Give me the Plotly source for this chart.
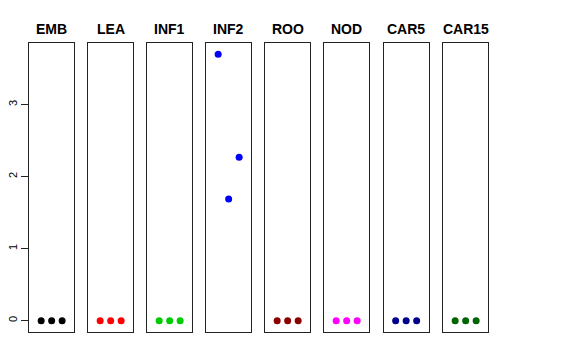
import plotly.graph_objects as go

tissues = ["EMB", "LEA", "INF1", "INF2", "ROO", "NOD", "CAR5", "CAR15"]
colors = ["#000000", "#FF0000", "#00CD00", "#0000FF", "#8B0000", "#FF00FF", "#00008B", "#006400"]
replicate = [1, 2, 3]
values = {
    "EMB": [0, 0, 0],
    "LEA": [0, 0, 0],
    "INF1": [0, 0, 0],
    "INF2": [3.70, 1.69, 2.27],
    "ROO": [0, 0, 0],
    "NOD": [0, 0, 0],
    "CAR5": [0, 0, 0],
    "CAR15": [0, 0, 0],
}
y_ticks = [0, 1, 2, 3]

# page body has an 8px default margin; lay out in page pixels minus that offset
OFF = 8
W, H = 576 - OFF, 360 - OFF
panel_left = [29, 88, 147, 206, 265, 324, 383.5, 443]
panel_w = 45.3
top_px, bot_px = 42.7, 331.7

fig = go.Figure()
layout = dict(
    width=W, height=H, margin=dict(l=0, r=0, t=0, b=0, autoexpand=False),
    paper_bgcolor="white", plot_bgcolor="white", showlegend=False,
    font=dict(family="Liberation Sans, Arial, sans-serif", color="black"),
)
annotations = []
for i, (t, c) in enumerate(zip(tissues, colors)):
    k = "" if i == 0 else str(i + 1)
    fig.add_trace(go.Scatter(
        x=replicate, y=values[t], mode="markers",
        marker=dict(color=c, size=7),
        xaxis="x" + k, yaxis="y" + k, hoverinfo="x+y",
    ))
    x0 = (panel_left[i] - OFF) / W
    x1 = (panel_left[i] + panel_w - OFF) / W
    layout["xaxis" + k] = dict(
        domain=[x0, x1], range=[-0.16, 4.16], anchor="y" + k,
        showline=True, mirror=True, linecolor="#222", linewidth=1,
        showgrid=False, zeroline=False, showticklabels=False, ticks="",
    )
    ya = dict(
        domain=[1 - (bot_px - OFF) / H, 1 - (top_px - OFF) / H], range=[-0.153, 3.861],
        anchor="x" + k,
        showline=True, mirror=True, linecolor="#222", linewidth=1,
        showgrid=False, zeroline=False,
    )
    if i == 0:
        ya.update(tickvals=y_ticks, ticktext=[str(v) for v in y_ticks],
                  ticks="outside", ticklen=7, tickcolor="#222",
                  tickangle=-90, tickfont=dict(size=11, color="black"))
    else:
        ya.update(showticklabels=False, ticks="", matches="y")
    layout["yaxis" + k] = ya
    annotations.append(dict(
        x=(panel_left[i] + panel_w / 2 - OFF) / W, y=1 - (29 - OFF) / H,
        xref="paper", yref="paper", text="<b>" + t + "</b>",
        showarrow=False, xanchor="center", yanchor="middle",
        font=dict(size=14, color="black"),
    ))
layout["annotations"] = annotations
fig.update_layout(**layout)
fig.write_html("out.html")
